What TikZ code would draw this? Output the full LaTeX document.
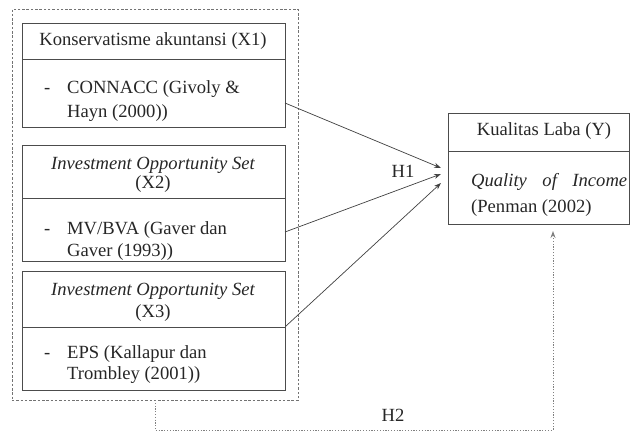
\documentclass[tikz,border=0pt]{standalone}
\usepackage{fontspec}
\setmainfont{Liberation Serif}
\usetikzlibrary{arrows.meta}
\begin{document}
\begin{tikzpicture}[x=1pt,y=-1pt,
  every node/.style={font=\fontsize{18.6}{24}\selectfont, text=black!85, inner sep=0pt},
  boxline/.style={draw=black!70, line width=0.9pt},
  outerbox/.style={draw=black!55, line width=0.8pt, dash pattern=on 2.5pt off 1.8pt},
  link/.style={draw=black!75, line width=0.7pt, -{Stealth[length=7pt,width=5pt]}},
  hlink/.style={draw=black!50, line width=0.9pt, dash pattern=on 1.2pt off 1.6pt, -{Stealth[length=7pt,width=5pt]}},
  lbl/.style={anchor=base west}]
\useasboundingbox (0,0) rectangle (630,434);
% outer dashed group
\node[outerbox, anchor=north west, minimum width=286pt, minimum height=391pt] (grp) at (11.5,9) {};
% box 1
\node[boxline, anchor=north west, minimum width=263pt, minimum height=36pt] (h1) at (22,23) {};
\node[boxline, anchor=north west, minimum width=263pt, minimum height=68pt] (b1) at (22,59) {};
\node (t1) at (153,41) {Konservatisme akuntansi (X1)};
\node[lbl] (d1) at (44,93) {-};
\node[lbl] (t1a) at (67,93) {CONNACC (Givoly \&};
\node[lbl] (t1b) at (67,117) {Hayn (2000))};
% box 2
\node[boxline, anchor=north west, minimum width=263pt, minimum height=53pt] (h2) at (22,145) {};
\node[boxline, anchor=north west, minimum width=263pt, minimum height=63pt] (b2) at (22,198) {};
\node (t2) at (153,165) {\itshape Investment Opportunity Set};
\node (t2x) at (153,184) {(X2)};
\node[lbl] (d2) at (44,234) {-};
\node[lbl] (t2a) at (67,234) {MV/BVA (Gaver dan};
\node[lbl] (t2b) at (67,256) {Gaver (1993))};
% box 3
\node[boxline, anchor=north west, minimum width=263pt, minimum height=56pt] (h3) at (22,271) {};
\node[boxline, anchor=north west, minimum width=263pt, minimum height=63pt] (b3) at (22,327) {};
\node (t3) at (153,291) {\itshape Investment Opportunity Set};
\node (t3x) at (153,313) {(X3)};
\node[lbl] (d3) at (44,358) {-};
\node[lbl] (t3a) at (67,358) {EPS (Kallapur dan};
\node[lbl] (t3b) at (67,379) {Trombley (2001))};
% right box
\node[boxline, anchor=north west, minimum width=181pt, minimum height=38pt] (hy) at (448,113) {};
\node[boxline, anchor=north west, minimum width=181pt, minimum height=73pt] (by) at (448,151) {};
\node (ty) at (544,131) {Kualitas Laba (Y)};
\node[lbl] (ty1) at (471,186) {\hbox to 156pt{\itshape Quality\hfill of\hfill Income}};
\node[lbl] (ty2) at (471,212) {(Penman (2002)};
% arrows H1
\coordinate (s1) at (285,103);
\coordinate (s2) at (285,232);
\coordinate (s3) at (286,326);
\coordinate (e1) at (441,168);
\coordinate (e2) at (441,174);
\coordinate (e3) at (441,183);
\draw[link] (s1) -- (e1);
\draw[link] (s2) -- (e2);
\draw[link] (s3) -- (e3);
\node (H1) at (403,171) {H1};
% H2
\coordinate (g1) at (155,400);
\coordinate (g2) at (155,430);
\coordinate (g3) at (553,430);
\coordinate (g4) at (553,231);
\draw[hlink] (g1) -- (g2) -- (g3) -- (g4);
\node (H2) at (393,415) {H2};
\end{tikzpicture}
\end{document}
